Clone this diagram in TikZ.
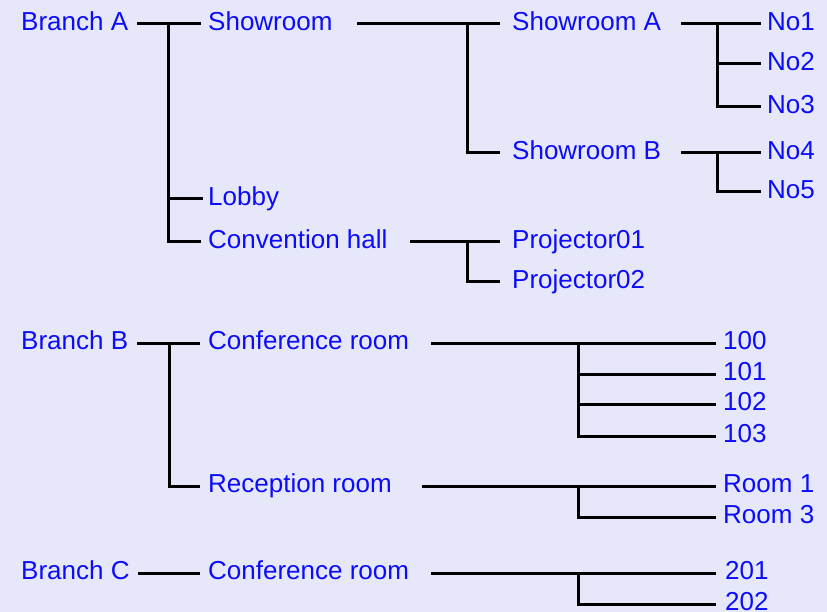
\documentclass[tikz,border=0pt]{standalone}
\usepackage{fontspec}
\setmainfont{Liberation Sans}
\definecolor{bgc}{RGB}{230,232,250}
\definecolor{txtc}{RGB}{12,12,250}
\begin{document}
\begin{tikzpicture}[x=1pt,y=-1pt,
  lbl/.style={anchor=west, inner sep=0pt, text=txtc, font=\fontsize{26}{30}\selectfont, text height=15pt, text depth=2pt},
  tree/.style={line width=3pt, draw=black}]
\fill[bgc] (0,0) rectangle (827,612);
\useasboundingbox (0,0) rectangle (827,612);
% Branch A
\node[lbl] (brA) at (21,24) {Branch A};
\node[lbl] (show) at (208,24) {Showroom};
\node[lbl] (lobby) at (208,199) {Lobby};
\node[lbl] (conv) at (208,242) {Convention hall};
\node[lbl] (shA) at (512,24) {Showroom A};
\node[lbl] (shB) at (512,153) {Showroom B};
\node[lbl] (p1) at (512,242) {Projector01};
\node[lbl] (p2) at (512,282) {Projector02};
\node[lbl] (n1) at (767,24) {No1};
\node[lbl] (n2) at (767,64) {No2};
\node[lbl] (n3) at (767,107) {No3};
\node[lbl] (n4) at (767,153) {No4};
\node[lbl] (n5) at (767,192) {No5};
% Branch B
\node[lbl] (brB) at (21,343) {Branch B};
\node[lbl] (confB) at (208,343) {Conference room};
\node[lbl] (recB) at (208,486) {Reception room};
\node[lbl] (r100) at (723,343) {100};
\node[lbl] (r101) at (723,374) {101};
\node[lbl] (r102) at (723,404) {102};
\node[lbl] (r103) at (723,436) {103};
\node[lbl] (rm1) at (723,486) {Room 1};
\node[lbl] (rm3) at (723,517) {Room 3};
% Branch C
\node[lbl] (brC) at (21,573) {Branch C};
\node[lbl] (confC) at (208,573) {Conference room};
\node[lbl] (r201) at (725,573) {201};
\node[lbl] (r202) at (725,604) {202};
% junctions
\coordinate (jA) at (168.5,24);
\coordinate (jS) at (467,24);
\coordinate (jSA) at (717,24);
\coordinate (jSB) at (717,153);
\coordinate (jC) at (467,242);
\coordinate (jB) at (169,343);
\coordinate (jCB) at (578,343);
\coordinate (jR) at (578,486);
\coordinate (jCC) at (578,573);
% connectors
\draw[tree] ([xshift=9pt]brA.east) -- ([xshift=-7pt]show.west);
\draw[tree] (jA) |- ([xshift=-5pt]lobby.west);
\draw[tree] (jA) |- ([xshift=-7pt]conv.west);
\draw[tree] ([xshift=24pt]show.east) -- ([xshift=-12pt]shA.west);
\draw[tree] (jS) |- ([xshift=-12pt]shB.west);
\draw[tree] ([xshift=20pt]shA.east) -- ([xshift=-6pt]n1.west);
\draw[tree] (jSA) |- ([xshift=-6pt]n2.west);
\draw[tree] (jSA) |- ([xshift=-6pt]n3.west);
\draw[tree] ([xshift=20pt]shB.east) -- ([xshift=-6pt]n4.west);
\draw[tree] (jSB) |- ([xshift=-6pt]n5.west);
\draw[tree] ([xshift=22pt]conv.east) -- ([xshift=-12pt]p1.west);
\draw[tree] (jC) |- ([xshift=-12pt]p2.west);
\draw[tree] ([xshift=9pt]brB.east) -- ([xshift=-8pt]confB.west);
\draw[tree] (jB) |- ([xshift=-8pt]recB.west);
\draw[tree] ([xshift=22pt]confB.east) -- ([xshift=-7pt]r100.west);
\draw[tree] (jCB) |- ([xshift=-7pt]r101.west);
\draw[tree] (jCB) |- ([xshift=-7pt]r102.west);
\draw[tree] (jCB) |- ([xshift=-7pt]r103.west);
\draw[tree] ([xshift=30pt]recB.east) -- ([xshift=-7pt]rm1.west);
\draw[tree] (jR) |- ([xshift=-7pt]rm3.west);
\draw[tree] ([xshift=8pt]brC.east) -- ([xshift=-8pt]confC.west);
\draw[tree] ([xshift=22pt]confC.east) -- ([xshift=-9pt]r201.west);
\draw[tree] (jCC) |- ([xshift=-9pt]r202.west);
\end{tikzpicture}
\end{document}
